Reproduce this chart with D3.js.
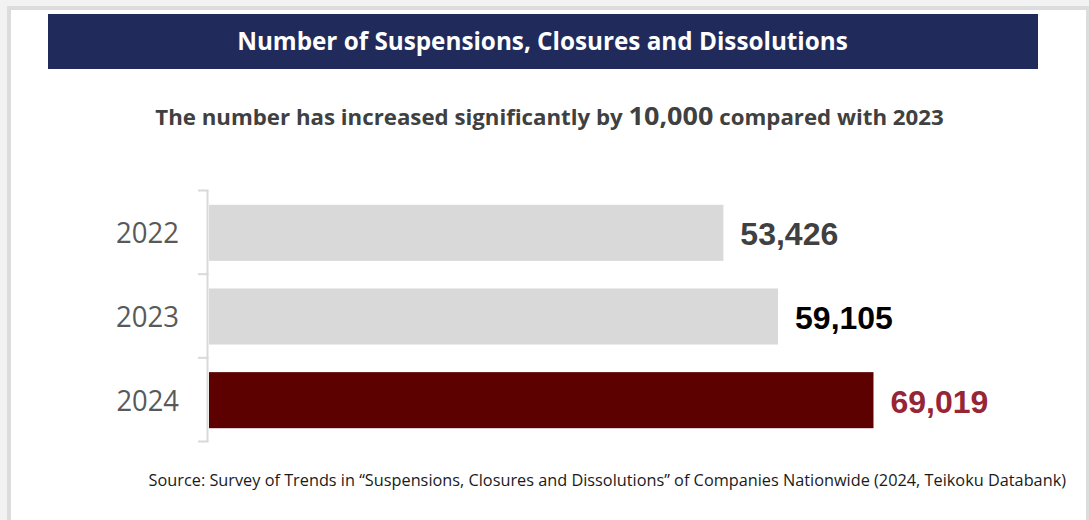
<!DOCTYPE html>
<html>
<head>
<meta charset="utf-8">
<script src="https://cdn.jsdelivr.net/npm/d3@7"></script>
<style>
  html, body { margin: 0; padding: 0; background: #f2f2f2; }
  svg { display: block; }
</style>
</head>
<body>
<svg id="chart" width="1089" height="520"></svg>
<script>
// ---- data ----
const categories = ["2022", "2023", "2024"];
const values = [53426, 59105, 69019];
const valueLabels = ["53,426", "59,105", "69,019"];
const titleText = "Number of Suspensions, Closures and Dissolutions";
const subtitleParts = ["The number has increased significantly by ", "10,000", " compared with 2023"];
const sourceText = "Source: Survey of Trends in \u201cSuspensions, Closures and Dissolutions\u201d of Companies Nationwide (2024, Teikoku Databank)";

// ---- styles ----
const barColors = ["#d9d9d9", "#d9d9d9", "#5c0000"];
const labelColors = ["#404040", "#000000", "#962536"];

const svg = d3.select("#chart");

function fit(sel, targetW, ax) {
  const w = sel.node().getBBox().width;
  const s = targetW / w;
  sel.attr("transform", `translate(${ax},0) scale(${s},1) translate(${-ax},0)`);
}

// frame
svg.append("rect").attr("x", 0).attr("y", 0).attr("width", 1089).attr("height", 520).attr("fill", "#f2f2f2");
svg.append("rect").attr("x", 7).attr("y", 6).attr("width", 1082).attr("height", 520).attr("fill", "#dcdcdc");
svg.append("rect").attr("x", 11).attr("y", 10).attr("width", 1075).attr("height", 520).attr("fill", "#ffffff");

// header
svg.append("rect").attr("x", 48).attr("y", 14).attr("width", 990).attr("height", 55).attr("fill", "#202b5b");
const title = svg.append("text")
  .attr("x", 542.5).attr("y", 50.5)
  .attr("text-anchor", "middle")
  .attr("font-family", "Open Sans, sans-serif")
  .attr("font-weight", 700)
  .attr("font-size", 25)
  .attr("fill", "#ffffff")
  .text(titleText);
fit(title, 611, 542.5);

// subtitle
const sub = svg.append("text")
  .attr("x", 549.5).attr("y", 125.5)
  .attr("text-anchor", "middle")
  .attr("font-family", "Open Sans, sans-serif")
  .attr("font-weight", 700)
  .attr("fill", "#404040");
subtitleParts.forEach((p, i) => {
  sub.append("tspan")
    .attr("font-size", i === 1 ? 25.5 : 21)
    .attr("xml:space", "preserve")
    .text(p);
});
sub.attr("xml:space", "preserve");
fit(sub, 789, 549.5);

// scales
const x = d3.scaleLinear().domain([0, 80000]).range([209, 979.2]);
const y = d3.scaleBand().domain(categories).range([190.5, 441.5]).paddingInner(0.33).paddingOuter(0.165);

// bars
svg.append("g").selectAll("rect")
  .data(categories)
  .join("rect")
  .attr("x", x(0))
  .attr("y", d => y(d) + 0.5)
  .attr("width", (d, i) => x(values[i]) - x(0))
  .attr("height", y.bandwidth())
  .attr("fill", (d, i) => barColors[i]);

// axis line + ticks at category boundaries
const axisX = 207.5;
const step = y.step();
const r0 = y.range()[0];
svg.append("line")
  .attr("x1", axisX).attr("x2", axisX)
  .attr("y1", r0).attr("y2", r0 + step * categories.length)
  .attr("stroke", "#d9d9d9").attr("stroke-width", 2);
svg.append("g").selectAll("line")
  .data(d3.range(categories.length + 1))
  .join("line")
  .attr("x1", 198).attr("x2", axisX + 1)
  .attr("y1", i => r0 + step * i).attr("y2", i => r0 + step * i)
  .attr("stroke", "#d9d9d9").attr("stroke-width", 2);

// category labels
svg.append("g").selectAll("text")
  .data(categories)
  .join("text")
  .attr("x", 179)
  .attr("y", d => y(d) + y.bandwidth() / 2 + 11)
  .attr("text-anchor", "end")
  .attr("font-family", "Open Sans, sans-serif")
  .attr("font-size", 29)
  .attr("fill", "#595959")
  .text(d => d)
  .each(function() {
    const s = d3.select(this);
    const w = this.getBBox().width;
    const k = 63 / w;
    s.attr("transform", `translate(179,0) scale(${k},1) translate(-179,0)`);
  });

// value labels
svg.append("g").selectAll("text")
  .data(categories)
  .join("text")
  .attr("x", (d, i) => x(values[i]) + 17)
  .attr("y", d => y(d) + y.bandwidth() / 2 + 13)
  .attr("font-family", "Liberation Sans, Arial, sans-serif")
  .attr("font-weight", 700)
  .attr("font-size", 32)
  .attr("fill", (d, i) => labelColors[i])
  .text((d, i) => valueLabels[i]);

// source
const src = svg.append("text")
  .attr("x", 1066).attr("y", 486)
  .attr("text-anchor", "end")
  .attr("font-family", "Open Sans, sans-serif")
  .attr("font-size", 17)
  .attr("fill", "#1a1a1a")
  .text(sourceText);
fit(src, 918, 1066);
</script>
</body>
</html>
